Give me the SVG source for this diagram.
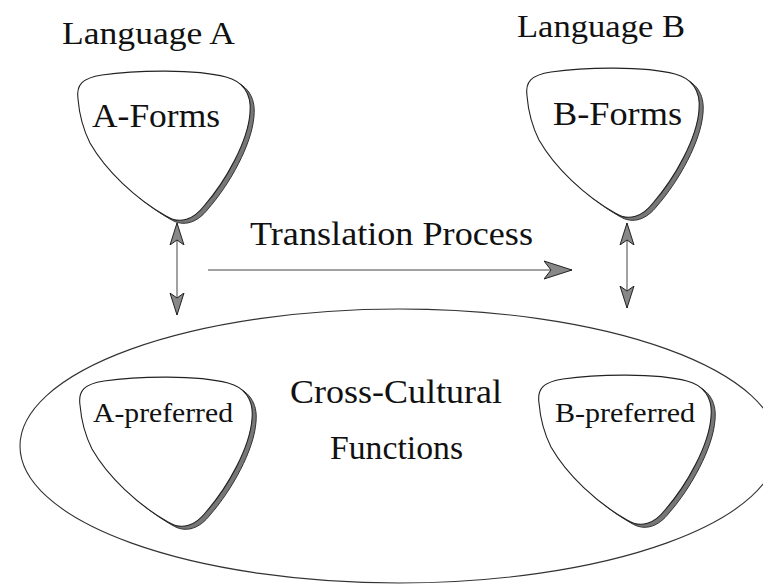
<svg xmlns="http://www.w3.org/2000/svg" xmlns:xlink="http://www.w3.org/1999/xlink" width="763" height="587" viewBox="0 0 763 587">
<style>
text{font-family:'Liberation Serif','Times New Roman',serif;fill:#111;}
.pick{fill:#fff;stroke:#222;stroke-width:1.1;}
.shadow{fill:#777;stroke:#333;stroke-width:1;}
.line{stroke:#444;stroke-width:1;fill:none;}
.outer{fill:none;stroke:#333;stroke-width:1.1;}
</style>
<defs>
<path id="pickShape" d="M2,28 C0,14 6,7 26,4 C60,-1 120,-2 150,6 C166,10 176,22 174,42 C172,70 150,110 128,135 C118,148 104,154 90,145 C60,128 30,100 14,72 C6,56 3,40 2,28 Z"/>
<marker id="headV" viewBox="0 -8 22 16" refX="22" refY="0" markerWidth="22" markerHeight="16" markerUnits="userSpaceOnUse" orient="auto-start-reverse">
<path d="M22,0 L0,-7 L5,0 L0,7 Z" fill="#888" stroke="#222" stroke-width="1"/>
</marker>
<marker id="headH" viewBox="0 -10 28 20" refX="28" refY="0" markerWidth="28" markerHeight="20" markerUnits="userSpaceOnUse" orient="auto">
<path d="M28,0 L0,-9 L7,0 L0,9 Z" fill="#888" stroke="#222" stroke-width="1"/>
</marker>
</defs>
<g id="cross-cultural-functions">
<ellipse class="outer" cx="399" cy="446" rx="379" ry="137"/>
<text x="290" y="403" font-size="34" textLength="212" lengthAdjust="spacingAndGlyphs">Cross-Cultural</text>
<text x="330" y="459" font-size="34" textLength="133" lengthAdjust="spacingAndGlyphs">Functions</text>
</g>
<g id="language-a"><text x="62" y="44" font-size="32" textLength="173" lengthAdjust="spacingAndGlyphs">Language A</text></g>
<g id="language-b"><text x="517" y="37" font-size="32" textLength="168" lengthAdjust="spacingAndGlyphs">Language B</text></g>
<g id="a-forms">
<use href="#pickShape" class="shadow" transform="translate(80,74)"/>
<use href="#pickShape" class="pick" transform="translate(76,71)"/>
<text x="92" y="127" font-size="33" textLength="128" lengthAdjust="spacingAndGlyphs">A-Forms</text>
</g>
<g id="b-forms">
<use href="#pickShape" class="shadow" transform="translate(529,71)"/>
<use href="#pickShape" class="pick" transform="translate(525,68)"/>
<text x="553" y="125" font-size="33" textLength="129" lengthAdjust="spacingAndGlyphs">B-Forms</text>
</g>
<g id="a-preferred">
<use href="#pickShape" class="shadow" transform="translate(82,380)"/>
<use href="#pickShape" class="pick" transform="translate(78,377)"/>
<text x="93" y="422" font-size="28" textLength="140" lengthAdjust="spacingAndGlyphs">A-preferred</text>
</g>
<g id="b-preferred">
<use href="#pickShape" class="shadow" transform="translate(541,378)"/>
<use href="#pickShape" class="pick" transform="translate(537,375)"/>
<text x="555" y="422" font-size="28" textLength="140" lengthAdjust="spacingAndGlyphs">B-preferred</text>
</g>
<g id="connectors">
<line class="line" x1="177" y1="223" x2="177" y2="315" marker-start="url(#headV)" marker-end="url(#headV)"/>
<line class="line" x1="627" y1="223" x2="627" y2="308" marker-start="url(#headV)" marker-end="url(#headV)"/>
<line class="line" x1="208" y1="270" x2="572" y2="270" marker-end="url(#headH)"/>
<text x="250" y="245" font-size="34" textLength="283" lengthAdjust="spacingAndGlyphs">Translation Process</text>
</g>
</svg>
